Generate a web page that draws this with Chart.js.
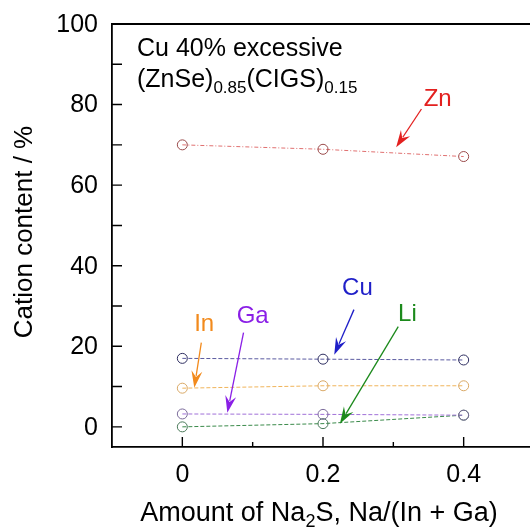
<!DOCTYPE html>
<html>
<head>
<meta charset="utf-8">
<script src="https://cdn.jsdelivr.net/npm/chart.js@4.4.1/dist/chart.umd.min.js"></script>
<style>
html,body{margin:0;padding:0;background:#fff;overflow:hidden;}
#wrap{width:540px;height:527px;}
</style>
</head>
<body>
<div id="wrap"><canvas id="c" width="540" height="527"></canvas></div>
<script>
// ---- data ----
const xValues = [0, 0.2, 0.4];
const znValues = [70.0, 68.9, 67.1];
const cuValues = [17.0, 16.8, 16.6];
const inValues = [9.6, 10.2, 10.2];
const gaValues = [3.2, 3.1, 2.9];
const liValues = [0.0, 0.8, 2.9];
const xMajorTicks = [0, 0.2, 0.4];
const xMinorTicks = [0.1, 0.3];
const yMajorTicks = [0, 20, 40, 60, 80, 100];
const yMinorTicks = [10, 30, 50, 70, 90];
const xTickLabels = ['0', '0.2', '0.4'];
const yTickLabels = ['0', '20', '40', '60', '80', '100'];

// annotation labels and arrows (data coordinates)
const annLabels = ['Zn', 'Cu', 'In', 'Ga', 'Li'];
const annColors = ['#e3201f', '#1f1fc8', '#f28a1c', '#8a1fe6', '#1c8a1c'];
const annLabelX = [0.363, 0.249, 0.031, 0.100, 0.320];
const annLabelY = [81.3, 34.3, 25.4, 27.4, 27.9];
const annTailX = [0.340, 0.244, 0.027, 0.087, 0.307];
const annTailY = [78.9, 29.1, 20.9, 23.4, 24.9];
const annTipX = [0.304, 0.216, 0.017, 0.064, 0.224];
const annTipY = [69.4, 17.9, 9.7, 3.5, 0.75];

const FONT = '"Liberation Sans", Arial, sans-serif';

function mkSet(label, data, lineColor, markColor, dash) {
  return {
    label, data: xValues.map((x, i) => ({x, y: data[i]})),
    borderColor: lineColor, borderWidth: 1, borderDash: dash,
    pointRadius: 5, pointHoverRadius: 5, pointBorderWidth: 1,
    pointBorderColor: markColor, pointBackgroundColor: 'rgba(255,255,255,0)',
    showLine: true, fill: false, tension: 0
  };
}

const decor = {
  id: 'decor',
  afterDraw(chart) {
    const ctx = chart.ctx, ca = chart.chartArea;
    const xs = chart.scales.x, ys = chart.scales.y;
    ctx.save();
    // frame top
    ctx.strokeStyle = '#000'; ctx.lineWidth = 1.8;
    ctx.beginPath();
    ctx.moveTo(ca.left, ca.top); ctx.lineTo(ca.right, ca.top);
    ctx.stroke();
    // ticks inward
    ctx.lineWidth = 1.4;
    ctx.beginPath();
    yMajorTicks.concat(yMinorTicks).forEach(v => {
      const p = ys.getPixelForValue(v);
      ctx.moveTo(ca.left, p); ctx.lineTo(ca.left + 10, p);
    });
    xMajorTicks.forEach(v => {
      const p = xs.getPixelForValue(v);
      ctx.moveTo(p, ca.bottom); ctx.lineTo(p, ca.bottom - 10);
    });
    xMinorTicks.forEach(v => {
      const p = xs.getPixelForValue(v);
      ctx.moveTo(p, ca.bottom); ctx.lineTo(p, ca.bottom - 5);
    });
    ctx.stroke();
    // tick labels
    ctx.fillStyle = '#000';
    ctx.font = '25px ' + FONT;
    ctx.textAlign = 'right'; ctx.textBaseline = 'middle';
    yMajorTicks.forEach((v, i) => ctx.fillText(yTickLabels[i], ca.left - 14, ys.getPixelForValue(v) + 1));
    ctx.textAlign = 'center'; ctx.textBaseline = 'alphabetic';
    xMajorTicks.forEach((v, i) => ctx.fillText(xTickLabels[i], xs.getPixelForValue(v), 482));
    // x title with subscript
    ctx.textAlign = 'left'; ctx.textBaseline = 'alphabetic';
    const parts = [['Amount of Na', 27, 0], ['2', 18, 6], ['S, Na/(In + Ga)', 27, 0]];
    let total = 0;
    parts.forEach(p => { ctx.font = p[1] + 'px ' + FONT; total += ctx.measureText(p[0]).width; });
    let x0 = 319 - total / 2;
    parts.forEach(p => { ctx.font = p[1] + 'px ' + FONT; ctx.fillText(p[0], x0, 521 + p[2]); x0 += ctx.measureText(p[0]).width; });
    // y title
    ctx.save();
    ctx.translate(25, 232); ctx.rotate(-Math.PI / 2);
    ctx.font = '26px ' + FONT; ctx.textAlign = 'center'; ctx.textBaseline = 'middle';
    ctx.fillText('Cation content / %', 0, 0);
    ctx.restore();
    // top-left text
    ctx.font = '25px ' + FONT; ctx.textAlign = 'left'; ctx.textBaseline = 'alphabetic';
    ctx.fillText('Cu 40% excessive', 137, 56);
    const p2 = [['(ZnSe)', 25, 0], ['0.85', 17, 6], ['(CIGS)', 25, 0], ['0.15', 17, 6]];
    let x1 = 137;
    p2.forEach(p => { ctx.font = p[1] + 'px ' + FONT; ctx.fillText(p[0], x1, 87 + p[2]); x1 += ctx.measureText(p[0]).width; });
    // annotations
    annLabels.forEach((t, i) => {
      const c = annColors[i];
      ctx.fillStyle = c; ctx.strokeStyle = c; ctx.lineWidth = 1.3;
      ctx.font = '24px ' + FONT; ctx.textAlign = 'center'; ctx.textBaseline = 'middle';
      ctx.fillText(t, xs.getPixelForValue(annLabelX[i]), ys.getPixelForValue(annLabelY[i]));
      const tx = xs.getPixelForValue(annTailX[i]), ty = ys.getPixelForValue(annTailY[i]);
      const hx = xs.getPixelForValue(annTipX[i]), hy = ys.getPixelForValue(annTipY[i]);
      const ang = Math.atan2(hy - ty, hx - tx);
      const L = 15, W = 5.5;
      const bx = hx - L * Math.cos(ang), by = hy - L * Math.sin(ang);
      ctx.beginPath(); ctx.moveTo(tx, ty); ctx.lineTo(bx + 3 * Math.cos(ang), by + 3 * Math.sin(ang)); ctx.stroke();
      ctx.beginPath();
      ctx.moveTo(hx, hy);
      ctx.lineTo(bx - W * Math.sin(ang) - 2 * Math.cos(ang), by + W * Math.cos(ang) - 2 * Math.sin(ang));
      ctx.lineTo(bx + 4 * Math.cos(ang), by + 4 * Math.sin(ang));
      ctx.lineTo(bx + W * Math.sin(ang) - 2 * Math.cos(ang), by - W * Math.cos(ang) - 2 * Math.sin(ang));
      ctx.closePath(); ctx.fill();
    });
    ctx.restore();
  }
};

new Chart(document.getElementById('c'), {
  type: 'scatter',
  data: {
    datasets: [
      mkSet('Zn', znValues, '#e07070', '#9a4a4a', [4, 2, 1, 2]),
      mkSet('Cu', cuValues, '#5a5aa0', '#2e2e60', [4, 2]),
      mkSet('In', inValues, '#f0b45a', '#d9a865', [4, 2]),
      mkSet('Ga', gaValues, '#a070d8', '#7a6a9a', [4, 2]),
      mkSet('Li', liValues, '#3a8a4a', '#4a7a5a', [4, 2])
    ]
  },
  options: {
    responsive: false, animation: false, devicePixelRatio: 1,
    layout: {padding: {left: 112, top: 24, right: 0, bottom: 80}},
    plugins: {legend: {display: false}, tooltip: {enabled: false}},
    scales: {
      x: {type: 'linear', min: -0.1, max: 0.5,
          ticks: {display: false}, grid: {display: false, drawTicks: false},
          border: {display: true, color: '#000', width: 1.8}},
      y: {type: 'linear', min: -5, max: 100,
          ticks: {display: false}, grid: {display: false, drawTicks: false},
          border: {display: true, color: '#000', width: 1.8}}
    }
  },
  plugins: [decor]
});
</script>
</body>
</html>
